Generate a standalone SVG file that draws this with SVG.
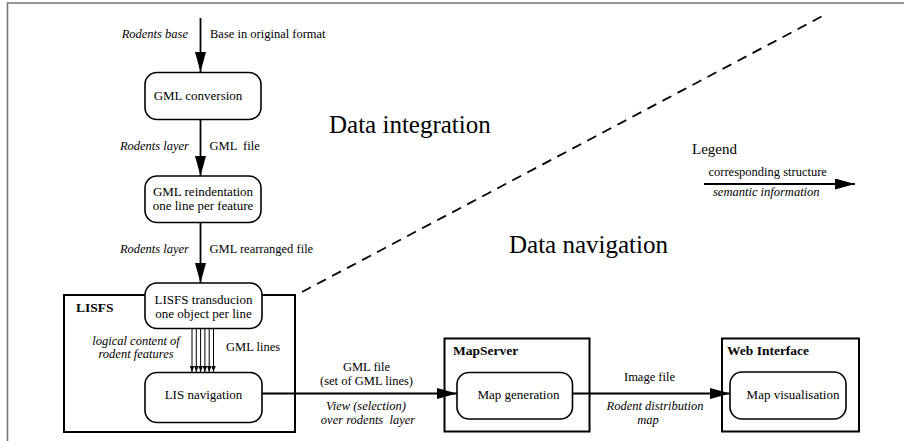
<svg xmlns="http://www.w3.org/2000/svg" width="904" height="441" viewBox="0 0 904 441">
<style>
text{font-family:"Liberation Serif","Times New Roman",serif;fill:#000}
.lbl{font-size:12.5px}
.it{font-style:italic}
.bx{font-size:13px}
.b{font-weight:bold;font-size:13.5px}
.big{font-size:25px}
.node{fill:#fff;stroke:#000;stroke-width:1.6}
.cont{fill:#fff;stroke:#000;stroke-width:2}
.ln{stroke:#000;stroke-width:1.8;fill:none}
.thin{stroke:#000;stroke-width:1;fill:none}
</style>
<defs>
<marker id="ah" markerUnits="userSpaceOnUse" markerWidth="22" markerHeight="12" refX="20" refY="5.5" orient="auto"><path d="M0,0 L20,5.5 L0,11 Z" fill="#000"/></marker>
<marker id="sh" markerUnits="userSpaceOnUse" markerWidth="8" markerHeight="6" refX="6" refY="2.25" orient="auto"><path d="M0,0 L6,2.25 L0,4.5 Z" fill="#000"/></marker>
</defs>
<rect width="904" height="441" fill="#fff"/>
<path d="M7.5,441 V3 H904" fill="none" stroke="#777" stroke-width="1.6"/>

<g id="lisfs">
<rect class="cont" x="64" y="295" width="231" height="137"/>
<text class="b" x="76" y="312">LISFS</text>
</g>
<g id="mapserver">
<rect class="cont" x="444.5" y="338.5" width="145" height="93"/>
<text class="b" x="453" y="355">MapServer</text>
</g>
<g id="webinterface">
<rect class="cont" x="722" y="338.5" width="137" height="93"/>
<text class="b" x="727" y="355">Web Interface</text>
</g>

<g id="gmlconversion">
<rect class="node" x="145" y="72.5" width="116" height="47" rx="12"/>
<text class="bx" x="198" y="100" text-anchor="middle">GML conversion</text>
</g>
<g id="gmlreindentation">
<rect class="node" x="145" y="176" width="116" height="46.5" rx="12"/>
<text class="bx" x="203" y="196" text-anchor="middle">GML reindentation</text>
<text class="bx" x="203" y="210" text-anchor="middle">one line per feature</text>
</g>
<g id="lisfstransducion">
<rect class="node" x="145" y="283" width="117" height="45.5" rx="12"/>
<text class="bx" x="203.5" y="303.5" text-anchor="middle">LISFS transducion</text>
<text class="bx" x="203.5" y="317.5" text-anchor="middle">one object per line</text>
</g>
<g id="lisnavigation">
<rect class="node" x="145" y="372.5" width="117" height="50" rx="12"/>
<text class="bx" x="203.5" y="398.5" text-anchor="middle">LIS navigation</text>
</g>
<g id="mapgeneration">
<rect class="node" x="457" y="372.5" width="115.5" height="46.5" rx="12"/>
<text class="bx" x="518.5" y="398.5" text-anchor="middle">Map generation</text>
</g>
<g id="mapvisualisation">
<rect class="node" x="730" y="372" width="116" height="47" rx="12"/>
<text class="bx" x="793" y="398.5" text-anchor="middle">Map visualisation</text>
</g>

<g id="connectors">
<line class="ln" x1="200.5" y1="18" x2="200.5" y2="72" marker-end="url(#ah)"/>
<line class="ln" x1="200.5" y1="119.5" x2="200.5" y2="176" marker-end="url(#ah)"/>
<line class="ln" x1="200.5" y1="222.5" x2="200.5" y2="283" marker-end="url(#ah)"/>
<g class="multi">
<line class="thin" x1="192" y1="328.5" x2="192" y2="372" marker-end="url(#sh)"/>
<line class="thin" x1="196.3" y1="328.5" x2="196.3" y2="372" marker-end="url(#sh)"/>
<line class="thin" x1="200.6" y1="328.5" x2="200.6" y2="372" marker-end="url(#sh)"/>
<line class="thin" x1="204.9" y1="328.5" x2="204.9" y2="372" marker-end="url(#sh)"/>
<line class="thin" x1="209.2" y1="328.5" x2="209.2" y2="372" marker-end="url(#sh)"/>
<line class="thin" x1="213.5" y1="328.5" x2="213.5" y2="372" marker-end="url(#sh)"/>
</g>
<line class="ln" x1="262" y1="393.5" x2="457" y2="393.5" marker-end="url(#ah)"/>
<line class="ln" x1="572.5" y1="393.5" x2="730" y2="393.5" marker-end="url(#ah)"/>
<line x1="302" y1="292" x2="823.5" y2="15.5" stroke="#000" stroke-width="1.8" stroke-dasharray="10,7"/>
</g>

<g id="labels">
<text class="lbl it" x="188" y="38" text-anchor="end">Rodents base</text>
<text class="lbl" x="210" y="38">Base in original format</text>
<text class="lbl it" x="189" y="149.5" text-anchor="end">Rodents layer</text>
<text class="lbl" x="209.5" y="149.5" xml:space="preserve">GML  file</text>
<text class="lbl it" x="189" y="252.5" text-anchor="end">Rodents layer</text>
<text class="lbl" x="209.5" y="252.5">GML rearranged file</text>
<text class="lbl it" x="136" y="344.5" text-anchor="middle">logical content of</text>
<text class="lbl it" x="136" y="358" text-anchor="middle">rodent features</text>
<text class="lbl" x="226" y="351">GML lines</text>
<text class="lbl" x="366.5" y="371" text-anchor="middle">GML file</text>
<text class="lbl" x="366.5" y="384.5" text-anchor="middle">(set of GML lines)</text>
<text class="lbl it" x="366" y="410" text-anchor="middle">View (selection)</text>
<text class="lbl it" x="368" y="423.5" text-anchor="middle" xml:space="preserve">over rodents  layer</text>
<text class="lbl" x="649.5" y="381" text-anchor="middle">Image file</text>
<text class="lbl it" x="655" y="410" text-anchor="middle">Rodent distribution</text>
<text class="lbl it" x="648" y="423.5" text-anchor="middle">map</text>
<text class="big" x="329" y="133">Data integration</text>
<text class="big" x="509" y="252.5">Data navigation</text>
</g>

<g id="legend">
<text x="692" y="154" font-size="15">Legend</text>
<text class="lbl" x="708.5" y="176">corresponding structure</text>
<line class="ln" x1="704" y1="184" x2="855" y2="184" marker-end="url(#ah)"/>
<text class="lbl it" x="713" y="196">semantic information</text>
</g>
</svg>
